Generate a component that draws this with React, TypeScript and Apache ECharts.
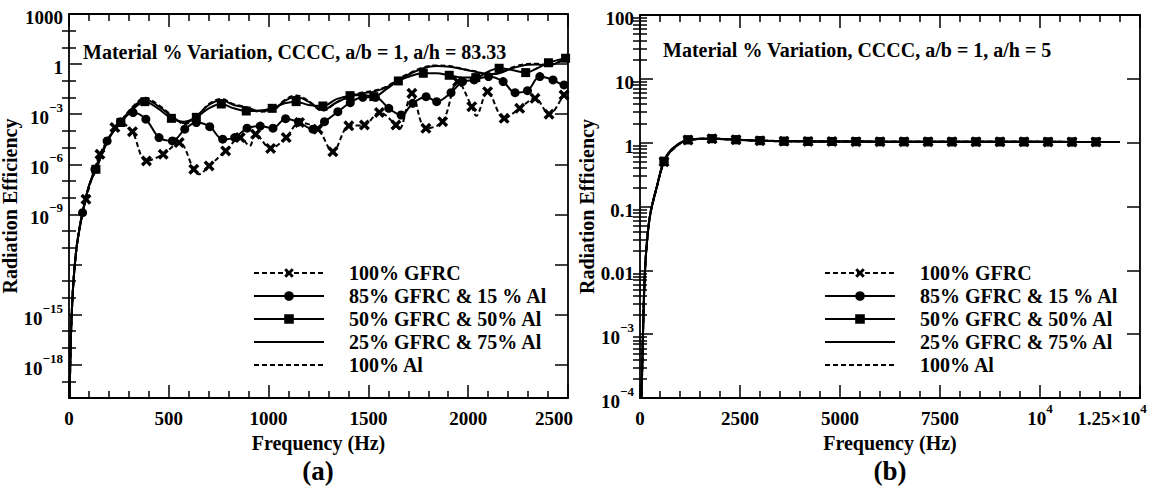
import React, { useEffect, useRef } from 'react';
import * as echarts from 'echarts';

const FONT = 'Liberation Serif';
const BLACK = '#000000';

const NAMES = ['100% GFRC', '85% GFRC & 15 % Al', '50% GFRC & 50% Al', '25% GFRC & 75% Al', '100% Al'];

// Panel (a): CCCC, a/b = 1, a/h = 83.33
// [frequency (Hz), log10(radiation efficiency), marker drawn (1) or not (0)]
const aGfrc100: number[][] = [
  [3, -20, 0], [8, -17, 0], [15, -14.6, 0], [25, -12.6, 0], [40, -10.8, 0], [60, -9.3, 0], [85, -8.1, 1],
  [120, -6.6, 0], [155, -5.4, 1], [195, -4.5, 0], [230, -3.8, 1], [258, -3.5, 0], [280, -3.6, 0], [318, -4.05, 1],
  [388, -5.8, 1], [472, -5.4, 1], [552, -4.7, 1], [625, -6.3, 1], [650, -6.6, 0], [702, -6.1, 1], [785, -5.2, 1],
  [858, -4.4, 1], [905, -4.9, 0], [935, -4.2, 1], [1010, -5.05, 1], [1088, -4.4, 1], [1155, -3.5, 1], [1247, -3.9, 1],
  [1322, -5.25, 1], [1402, -3.7, 1], [1480, -3.65, 1], [1555, -2.9, 1], [1638, -3.65, 1], [1655, -3.9, 0],
  [1718, -1.75, 1], [1788, -3.85, 1], [1872, -3.45, 1], [1947, -1.05, 1], [2018, -2.55, 1], [2040, -3.1, 0],
  [2097, -1.65, 1], [2180, -3.25, 1], [2258, -2.65, 1], [2335, -2.05, 1], [2405, -3.0, 1], [2480, -1.85, 1], [2500, -1.6, 0],
];
const aGfrc85: number[][] = [
  [3, -20, 0], [8, -17, 0], [15, -14.6, 0], [25, -12.6, 0], [40, -10.8, 0], [68, -8.9, 1], [100, -7.3, 0],
  [130, -6.3, 1], [191, -4.6, 1], [258, -3.45, 1], [321, -2.9, 1], [385, -3.3, 1], [451, -4.4, 1], [518, -4.6, 1],
  [580, -3.9, 1], [638, -3.5, 1], [705, -3.75, 1], [770, -4.5, 1], [830, -4.4, 1], [892, -3.84, 1], [958, -3.71, 1],
  [1022, -3.84, 1], [1085, -3.27, 1], [1150, -3.48, 1], [1222, -3.9, 1], [1280, -3.45, 1], [1347, -2.85, 1],
  [1409, -2.31, 1], [1472, -1.99, 1], [1535, -1.99, 1], [1602, -2.65, 1], [1664, -3.05, 1], [1722, -2.35, 1],
  [1789, -1.95, 1], [1842, -2.25, 1], [1914, -1.71, 1], [1972, -1.05, 1], [2030, -0.95, 1], [2102, -0.75, 1],
  [2175, -1.05, 1], [2235, -1.71, 1], [2297, -1.59, 1], [2359, -0.75, 1], [2425, -0.95, 1], [2480, -1.25, 1], [2500, -1.1, 0],
];
const aGfrc50: number[][] = [
  [3, -20, 0], [8, -17, 0], [15, -14.6, 0], [25, -12.6, 0], [40, -10.8, 0], [68, -8.9, 0], [100, -7.3, 0],
  [135, -6.3, 1], [200, -4.45, 0], [260, -3.5, 1], [320, -2.7, 0], [380, -2.25, 1], [445, -2.65, 0], [513, -3.25, 1],
  [572, -3.45, 0], [638, -3.19, 1], [700, -2.65, 0], [763, -2.39, 1], [825, -2.65, 0], [888, -2.81, 1], [950, -2.8, 0],
  [1018, -2.65, 1], [1080, -2.35, 0], [1138, -2.25, 1], [1200, -2.45, 0], [1272, -2.51, 1], [1340, -2.1, 0],
  [1408, -1.89, 1], [1470, -1.85, 0], [1527, -1.95, 1], [1590, -1.5, 0], [1650, -1.01, 1], [1715, -0.7, 0],
  [1775, -0.55, 1], [1840, -0.55, 0], [1905, -0.67, 1], [1970, -0.8, 0], [2038, -0.81, 1], [2100, -0.45, 0],
  [2155, -0.25, 1], [2220, -0.35, 0], [2288, -0.51, 1], [2345, -0.25, 0], [2402, 0.08, 1], [2488, 0.35, 1], [2500, 0.38, 0],
];
const aGfrc25: number[][] = [
  [3, -20, 0], [8, -17, 0], [15, -14.6, 0], [25, -12.6, 0], [40, -10.8, 0], [68, -8.9, 0], [100, -7.3, 0],
  [135, -6.3, 0], [200, -4.45, 0], [260, -3.45, 0], [320, -2.6, 0], [380, -2.1, 0], [445, -2.5, 0], [513, -3.1, 0],
  [580, -3.55, 0], [640, -3.1, 0], [700, -2.45, 0], [763, -2.15, 0], [825, -2.45, 0], [888, -2.6, 0], [950, -2.8, 0],
  [1018, -2.75, 0], [1080, -2.2, 0], [1138, -1.95, 0], [1200, -2.25, 0], [1270, -2.75, 0], [1340, -2.3, 0],
  [1408, -1.95, 0], [1470, -1.75, 0], [1527, -1.65, 0], [1590, -1.4, 0], [1650, -0.95, 0], [1715, -0.55, 0],
  [1775, -0.25, 0], [1840, -0.12, 0], [1905, -0.16, 0], [1970, -0.3, 0], [2038, -0.46, 0], [2100, -0.6, 0],
  [2155, -0.55, 0], [2220, -0.25, 0], [2288, -0.05, 0], [2345, -0.02, 0], [2402, -0.1, 0], [2450, 0.1, 0], [2500, 0.32, 0],
];
const aAl100: number[][] = [
  [3, -20, 0], [8, -17, 0], [15, -14.6, 0], [25, -12.6, 0], [40, -10.8, 0], [68, -8.9, 0], [100, -7.3, 0],
  [135, -6.3, 0], [200, -4.45, 0], [260, -3.42, 0], [320, -2.55, 0], [380, -2.02, 0], [445, -2.42, 0], [513, -3.05, 0],
  [580, -3.6, 0], [640, -3.15, 0], [700, -2.4, 0], [763, -2.08, 0], [825, -2.4, 0], [888, -2.58, 0], [950, -2.85, 0],
  [1018, -2.8, 0], [1080, -2.15, 0], [1138, -1.88, 0], [1200, -2.2, 0], [1270, -2.8, 0], [1340, -2.3, 0],
  [1408, -1.9, 0], [1470, -1.7, 0], [1527, -1.6, 0], [1590, -1.35, 0], [1650, -0.9, 0], [1715, -0.5, 0],
  [1775, -0.2, 0], [1840, -0.08, 0], [1905, -0.12, 0], [1970, -0.28, 0], [2038, -0.45, 0], [2100, -0.6, 0],
  [2155, -0.52, 0], [2220, -0.2, 0], [2288, 0.0, 0], [2345, 0.02, 0], [2402, -0.08, 0], [2450, 0.12, 0], [2500, 0.35, 0],
];

// Panel (b): CCCC, a/b = 1, a/h = 5
const bFreq = [30, 60, 100, 150, 250, 420, 600, 800, 1200, 1800, 2400, 3000, 3600, 4200, 4800, 5400, 6000, 6600, 7200, 7800, 8400, 9000, 9600, 10200, 10800, 11400, 12000];
const bMarker = [0, 0, 0, 0, 0, 0, 1, 0, 1, 1, 1, 1, 1, 1, 1, 1, 1, 1, 1, 1, 1, 1, 1, 1, 1, 1, 0];
// log10(radiation efficiency)
const bGfrc100 = [-4.2, -3.4, -2.4, -1.75, -1.15, -0.7, -0.3, -0.12, 0.04, 0.06, 0.045, 0.03, 0.022, 0.02, 0.018, 0.016, 0.015, 0.015, 0.014, 0.014, 0.013, 0.013, 0.013, 0.012, 0.012, 0.012, 0.012];
const bGfrc85 = [-4.2, -3.4, -2.4, -1.75, -1.15, -0.7, -0.3, -0.11, 0.045, 0.062, 0.046, 0.031, 0.023, 0.02, 0.018, 0.016, 0.015, 0.015, 0.014, 0.014, 0.013, 0.013, 0.013, 0.012, 0.012, 0.012, 0.012];
const bGfrc50 = [-4.2, -3.4, -2.4, -1.74, -1.14, -0.69, -0.29, -0.11, 0.045, 0.063, 0.047, 0.032, 0.024, 0.021, 0.019, 0.017, 0.016, 0.015, 0.015, 0.014, 0.014, 0.013, 0.013, 0.013, 0.012, 0.012, 0.012];
const bGfrc25 = [-4.2, -3.4, -2.4, -1.74, -1.14, -0.69, -0.29, -0.1, 0.046, 0.064, 0.048, 0.032, 0.024, 0.021, 0.019, 0.017, 0.016, 0.015, 0.015, 0.014, 0.014, 0.013, 0.013, 0.013, 0.012, 0.012, 0.012];
const bAl100 = [-4.2, -3.4, -2.4, -1.74, -1.14, -0.69, -0.29, -0.1, 0.046, 0.064, 0.048, 0.033, 0.025, 0.021, 0.019, 0.017, 0.016, 0.016, 0.015, 0.014, 0.014, 0.013, 0.013, 0.013, 0.012, 0.012, 0.012];

// Axis ticks
const aYMajor = [1e-18, 1e-15, 1e-12, 1e-9, 1e-6, 1e-3, 1, 1000];
const aYLabels = [1e-18, 1e-15, 1e-9, 1e-6, 1e-3, 1, 1000];
const aYMinor = [1e-19, 1e-17, 1e-16, 1e-14, 1e-13, 1e-11, 1e-10, 1e-8, 1e-7, 1e-5, 1e-4, 0.01, 0.1, 10, 100];
const bYMajor = [1e-4, 1e-3, 0.01, 0.1, 1, 10, 100];
const bYDecades = [1e-4, 1e-3, 0.01, 0.1, 1, 10];
const bYMantissas = [2, 3, 4, 5, 6, 7, 8, 9];
const bYPlainLabels: Record<string, string> = { '2': '100', '1': '10', '0': '1', '-1': '0.1', '-2': '0.01' };

const CROSS = 'path://M0,2.2L2.2,0L5,2.8L7.8,0L10,2.2L7.2,5L10,7.8L7.8,10L5,7.2L2.2,10L0,7.8L2.8,5Z';
const STYLES = [
  { symbol: CROSS, size: 11, dashed: true },
  { symbol: 'circle', size: 9, dashed: false },
  { symbol: 'rect', size: 9, dashed: false },
  { symbol: 'none', size: 0, dashed: false },
  { symbol: 'none', size: 0, dashed: true },
];

const RICH = {
  n: { fontFamily: FONT, fontWeight: 'bold', fontSize: 19, color: BLACK, lineHeight: 26, verticalAlign: 'bottom' },
  s: { fontFamily: FONT, fontWeight: 'bold', fontSize: 13, color: BLACK, lineHeight: 16, verticalAlign: 'top' },
  last: { fontFamily: FONT, fontWeight: 'bold', fontSize: 19, color: BLACK, lineHeight: 26, verticalAlign: 'bottom', padding: [0, 28, 0, 0] },
  sl: { fontFamily: FONT, fontWeight: 'bold', fontSize: 13, color: BLACK, lineHeight: 16, verticalAlign: 'top', padding: [0, 56, 0, 0] },
};

const exp10 = (v: number) => Math.round(Math.log10(v));
const aXFormatter = (v: number) => (v === 2500 ? '{last|2500}' : `{n|${v}}`);
const bXFormatter = (v: number) => {
  if (v === 10000) return '{n|10}{s|4}';
  if (v === 12500) return '{n|1.25×10}{sl|4}';
  return `{n|${v}}`;
};
const aYFormatter = (v: number) => {
  const e = exp10(v);
  if (e === 3) return '{n|1000}';
  if (e === 0) return '{n|1}';
  return `{n|10}{s|−${-e}}`;
};
const bYFormatter = (v: number) => {
  const e = exp10(v);
  const plain = bYPlainLabels[String(e)];
  if (plain) return `{n|${plain}}`;
  return `{n|10}{s|−${-e}}`;
};

const axisLineStyle = { color: BLACK, width: 1.8 };
const tickLine = { color: BLACK, width: 1.5 };
const nameStyle = { fontFamily: FONT, fontWeight: 'bold', fontSize: 20, color: BLACK };

function xAxesFor(gridIndex: number, max: number, interval: number, formatter: (v: number) => string) {
  const common = {
    type: 'value', gridIndex, min: 0, max, interval,
    axisLine: { show: true, onZero: false, lineStyle: axisLineStyle },
    axisTick: { show: true, inside: true, length: 13, lineStyle: tickLine },
    minorTick: { show: true, splitNumber: 5, length: 7, lineStyle: tickLine },
    splitLine: { show: false }, minorSplitLine: { show: false },
  };
  return [
    {
      ...common, position: 'bottom',
      axisLabel: { show: true, margin: 4, formatter, rich: RICH, fontFamily: FONT, fontWeight: 'bold', fontSize: 19, color: BLACK },
      name: 'Frequency (Hz)', nameLocation: 'middle', nameGap: 35, nameTextStyle: nameStyle,
    },
    { ...common, position: 'top', axisLabel: { show: false } },
  ];
}

function yAxesFor(gridIndex: number, min: number, max: number, major: number[], minor: number[], labels: number[], formatter: (v: number) => string) {
  const common = {
    type: 'log', logBase: 10, gridIndex, min, max,
    splitLine: { show: false }, minorSplitLine: { show: false }, minorTick: { show: false },
  };
  const majorTick = { show: true, inside: true, length: 13, customValues: major, lineStyle: tickLine };
  const minorTick = { show: true, inside: true, length: 7, customValues: minor, lineStyle: tickLine };
  return [
    {
      ...common, position: 'left',
      axisLine: { show: true, onZero: false, lineStyle: axisLineStyle },
      axisTick: majorTick,
      axisLabel: { show: true, margin: 6, customValues: labels, formatter, rich: RICH, fontFamily: FONT, fontWeight: 'bold', fontSize: 19, color: BLACK },
      name: 'Radiation Efficiency', nameLocation: 'middle', nameGap: 42, nameTextStyle: nameStyle,
    },
    { ...common, position: 'left', axisLine: { show: false }, axisTick: minorTick, axisLabel: { show: false } },
    { ...common, position: 'right', axisLine: { show: true, onZero: false, lineStyle: axisLineStyle }, axisTick: majorTick, axisLabel: { show: false } },
    { ...common, position: 'right', axisLine: { show: false }, axisTick: minorTick, axisLabel: { show: false } },
  ];
}

function lineSeries(name: string, idx: number, data: any[], xAxisIndex: number, yAxisIndex: number) {
  const st = STYLES[idx];
  return {
    type: 'line', name, xAxisIndex, yAxisIndex, data,
    smooth: 0.35, symbol: st.symbol, symbolSize: st.size, showSymbol: true, showAllSymbol: true,
    lineStyle: { color: BLACK, width: 2, type: st.dashed ? [5, 3] : 'solid' },
    itemStyle: { color: BLACK, borderWidth: 0 },
    emphasis: { disabled: true }, silent: true, clip: true,
  };
}

const aData = (pts: number[][]) =>
  pts.map(([f, e, m]) => (m ? { value: [f, Math.pow(10, e)] } : { value: [f, Math.pow(10, e)], symbol: 'none' }));
const bData = (vals: number[]) =>
  bFreq.map((f, i) => (bMarker[i] ? { value: [f, Math.pow(10, vals[i])] } : { value: [f, Math.pow(10, vals[i])], symbol: 'none' }));

export default function App() {
  const ref = useRef<HTMLDivElement>(null);
  useEffect(() => {
    document.body.style.margin = '0';
    if (!ref.current) return;
    const chart = echarts.init(ref.current, undefined, { renderer: 'svg' });

    const bYMinor: number[] = [];
    bYDecades.forEach((d) => bYMantissas.forEach((m) => bYMinor.push(m * d)));

    const aSets = [aGfrc100, aGfrc85, aGfrc50, aGfrc25, aAl100];
    const bSets = [bGfrc100, bGfrc85, bGfrc50, bGfrc25, bAl100];

    const legendBase = {
      orient: 'vertical', top: 263, padding: 0, itemWidth: 70, itemHeight: 12, itemGap: 3,
      selectedMode: false,
      textStyle: { fontFamily: FONT, fontWeight: 'bold', fontSize: 20, color: BLACK, padding: [0, 0, 0, 20], lineHeight: 20 },
      data: NAMES.map((name, i) => (i >= 3 ? { name, itemStyle: { opacity: 0 } } : { name })),
    };

    const titleStyle = { fontFamily: FONT, fontWeight: 'bold', fontSize: 20, color: BLACK, lineHeight: 24 };

    const option: any = {
      animation: false,
      backgroundColor: '#ffffff',
      textStyle: { fontFamily: FONT },
      title: [
        { text: 'Material % Variation, CCCC, a/b = 1, a/h = 83.33', left: 83, top: 40, padding: 0, textStyle: titleStyle },
        { text: 'Material % Variation, CCCC, a/b = 1, a/h = 5', left: 663, top: 38, padding: 0, textStyle: titleStyle },
      ],
      legend: [
        { ...legendBase, left: 253 },
        { ...legendBase, left: 824 },
      ],
      grid: [
        { left: 69, top: 14, width: 499, height: 384, containLabel: false, outerBoundsMode: 'none' },
        { left: 640, top: 15, width: 500, height: 383, containLabel: false, outerBoundsMode: 'none' },
      ],
      xAxis: [...xAxesFor(0, 2500, 500, aXFormatter), ...xAxesFor(1, 12500, 2500, bXFormatter)],
      yAxis: [
        ...yAxesFor(0, 1e-20, 1000, aYMajor, aYMinor, aYLabels, aYFormatter),
        ...yAxesFor(1, 1e-4, 100, bYMajor, bYMinor, bYMajor, bYFormatter),
      ],
      series: [
        ...aSets.map((pts, i) => lineSeries(NAMES[i], i, aData(pts), 0, 0)),
        ...bSets.map((vals, i) => lineSeries(NAMES[i], i, bData(vals), 2, 4)),
      ],
      graphic: [
        { type: 'text', x: 318, y: 471, style: { text: '(a)', fill: BLACK, fontFamily: FONT, fontWeight: 'bold', fontSize: 27, align: 'center', verticalAlign: 'middle' } },
        { type: 'text', x: 890, y: 471, style: { text: '(b)', fill: BLACK, fontFamily: FONT, fontWeight: 'bold', fontSize: 27, align: 'center', verticalAlign: 'middle' } },
      ],
    };
    chart.setOption(option);
    return () => chart.dispose();
  }, []);
  return <div ref={ref} style={{ position: 'absolute', left: 0, top: 0, width: 1150, height: 494, background: '#fff' }} />;
}
